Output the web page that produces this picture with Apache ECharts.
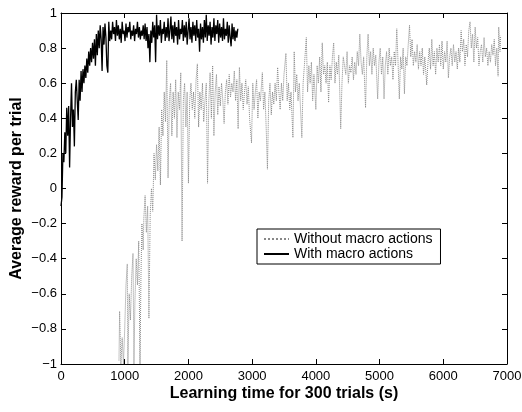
<!DOCTYPE html>
<html>
<head>
<meta charset="utf-8">
<script src="https://cdn.jsdelivr.net/npm/echarts@6/dist/echarts.min.js"></script>
<style>
html, body { margin: 0; padding: 0; background: #fff; }
#chart { width: 522px; height: 412px; }
</style>
</head>
<body>
<div id="chart"></div>
<script>
// axis ticks
var xTicks = [0, 1000, 2000, 3000, 4000, 5000, 6000, 7000];
var yTicks = [-1, -0.8, -0.6, -0.4, -0.2, 0, 0.2, 0.4, 0.6, 0.8, 1];
var seriesNames = ['Without macro actions', 'With macro actions'];

// [learning time (s), average reward per trial]
var withMacro = [
  [0,-0.1],[15,-0.05],[30,0.2],[45,0.15],[60,0.32],[75,0.2],[90,0.46],[105,0.3],[120,0.47],[135,0.12],
  [150,0.4],[165,0.6],[180,0.35],[195,0.45],[210,0.24],[225,0.55],[240,0.62],[255,0.5],[270,0.39],[285,0.62],
  [300,0.5],[315,0.67],[330,0.55],[345,0.68],[360,0.6],[375,0.7],[390,0.63],[405,0.74],[420,0.66],[435,0.78],
  [450,0.7],[465,0.8],[480,0.72],[495,0.83],[510,0.74],[525,0.85],[540,0.7],[555,0.88],[570,0.76],[585,0.9],
  [600,0.8],[615,0.93],[630,0.85],[645,0.67],[660,0.92],[675,0.82],[690,0.94],[705,0.86],[720,0.7],[735,0.66],
  [750,0.95],[765,0.84],[780,0.9],[795,0.85],[810,0.95],[825,0.88],[840,0.92],[855,0.84],[870,0.96],[885,0.87],
  [900,0.93],[915,0.85],[930,0.91],[945,0.83],[960,0.95],[975,0.88],[990,0.9],[1005,0.84],[1020,0.94],[1035,0.86],
  [1050,0.92],[1065,0.89],[1080,0.95],[1095,0.85],[1110,0.9],[1125,0.87],[1140,0.93],[1155,0.84],[1170,0.91],[1185,0.88],
  [1200,0.95],[1215,0.86],[1230,0.92],[1245,0.85],[1260,0.9],[1275,0.87],[1290,0.93],[1305,0.85],[1320,0.94],[1335,0.84],
  [1350,0.92],[1365,0.8],[1380,0.88],[1395,0.72],[1410,0.9],[1425,0.83],[1440,0.95],[1455,0.86],[1470,0.93],[1485,0.72],
  [1500,0.99],[1515,0.85],[1530,0.93],[1545,0.87],[1560,0.96],[1575,0.83],[1590,0.91],[1605,0.88],[1620,0.95],[1635,0.84],
  [1650,0.92],[1665,0.86],[1680,0.97],[1695,0.84],[1710,0.9],[1725,0.98],[1740,0.85],[1755,0.93],[1770,0.83],[1785,0.95],
  [1800,0.87],[1815,0.92],[1830,0.82],[1845,0.96],[1860,0.85],[1875,0.91],[1890,0.88],[1905,0.96],[1920,0.84],[1935,0.93],
  [1950,0.86],[1965,0.95],[1980,0.82],[1995,0.9],[2010,0.97],[2025,0.85],[2040,0.92],[2055,0.83],[2070,0.95],[2085,0.87],
  [2100,0.93],[2115,0.84],[2130,0.96],[2145,0.86],[2160,0.91],[2175,0.78],[2190,0.94],[2205,0.85],[2220,0.92],[2235,0.83],
  [2250,0.96],[2265,0.86],[2280,0.99],[2295,0.84],[2310,0.93],[2325,0.87],[2340,0.95],[2355,0.82],[2370,0.92],[2385,0.86],
  [2400,0.97],[2415,0.84],[2430,0.93],[2445,0.88],[2460,0.96],[2475,0.83],[2490,0.94],[2505,0.86],[2520,0.92],[2535,0.84],
  [2550,0.97],[2565,0.85],[2580,0.91],[2595,0.87],[2610,0.95],[2625,0.83],[2640,0.93],[2655,0.86],[2670,0.81],[2685,0.94],
  [2700,0.85],[2715,0.92],[2730,0.84],[2745,0.9],[2760,0.86],[2775,0.91]
];

var withoutMacro = [
  [910,-0.98],[920,-0.7],[940,-1.0],[960,-0.85],[980,-1.0],[1000,-0.8],[1020,-0.55],[1040,-0.43],[1050,-1.0],[1070,-0.6],
  [1090,-0.75],[1110,-0.5],[1130,-0.37],[1145,-1.0],[1160,-0.65],[1180,-0.4],[1200,-0.55],[1220,-0.3],[1240,-1.0],[1255,-0.5],
  [1270,-0.2],[1290,-0.35],[1300,-0.17],[1320,-0.04],[1340,-0.25],[1360,-0.1],[1380,-0.74],[1400,-0.15],[1420,0.0],[1440,-0.13],
  [1460,0.2],[1480,0.05],[1500,0.25],[1520,0.1],[1540,0.35],[1560,0.02],[1580,0.45],[1600,0.3],[1620,0.55],[1640,0.38],
  [1660,0.73],[1680,0.06],[1700,0.5],[1720,0.6],[1740,0.3],[1760,0.55],[1780,0.4],[1800,0.62],[1820,0.29],[1840,0.55],
  [1860,0.45],[1880,0.66],[1900,-0.3],[1920,0.5],[1940,0.6],[1960,0.35],[1980,0.55],[2000,0.03],[2020,0.5],[2040,0.6],
  [2060,0.45],[2080,0.55],[2100,0.4],[2120,0.62],[2140,0.71],[2160,0.35],[2180,0.55],[2200,0.45],[2220,0.6],[2240,0.38],
  [2260,0.5],[2280,0.6],[2300,0.03],[2320,0.5],[2340,0.66],[2360,0.4],[2380,0.7],[2400,0.3],[2420,0.55],[2440,0.65],
  [2460,0.42],[2480,0.58],[2500,0.47],[2520,0.6],[2540,0.5],[2560,0.37],[2580,0.55],[2600,0.62],[2620,0.48],[2640,0.65],
  [2660,0.52],[2680,0.6],[2700,0.55],[2720,0.67],[2740,0.5],[2760,0.62],[2780,0.34],[2800,0.69],[2820,0.5],[2840,0.6],
  [2860,0.45],[2880,0.55],[2900,0.62],[2920,0.48],[2940,0.58],[2960,0.4],[2990,0.26],[3010,0.6],[3030,0.45],[3050,0.55],
  [3070,0.62],[3090,0.4],[3110,0.55],[3130,0.5],[3160,0.66],[3180,0.45],[3200,0.55],[3220,0.35],[3240,0.11],[3260,0.5],
  [3280,0.6],[3300,0.42],[3320,0.55],[3340,0.48],[3360,0.6],[3380,0.5],[3400,0.69],[3420,0.55],[3440,0.45],[3460,0.6],
  [3480,0.5],[3500,0.65],[3530,0.77],[3550,0.5],[3570,0.6],[3590,0.45],[3610,0.55],[3640,0.29],[3660,0.78],[3680,0.55],
  [3700,0.65],[3720,0.5],[3740,0.6],[3760,0.45],[3780,0.29],[3800,0.6],[3820,0.7],[3850,0.86],[3870,0.55],[3890,0.7],
  [3910,0.6],[3930,0.72],[3950,0.5],[3970,0.65],[4000,0.45],[4020,0.7],[4040,0.6],[4060,0.75],[4080,0.55],[4100,0.83],
  [4120,0.65],[4140,0.7],[4160,0.6],[4180,0.72],[4200,0.49],[4220,0.7],[4240,0.62],[4260,0.75],[4280,0.83],[4300,0.6],
  [4320,0.72],[4340,0.65],[4360,0.76],[4390,0.34],[4410,0.6],[4430,0.75],[4450,0.7],[4470,0.65],[4490,0.78],[4510,0.6],
  [4530,0.7],[4550,0.66],[4570,0.75],[4590,0.62],[4610,0.72],[4630,0.65],[4650,0.78],[4670,0.7],[4690,0.88],[4710,0.72],
  [4730,0.65],[4750,0.75],[4780,0.46],[4800,0.75],[4820,0.88],[4840,0.7],[4860,0.78],[4880,0.65],[4900,0.8],[4920,0.7],
  [4940,0.76],[4970,0.51],[4990,0.72],[5010,0.8],[5030,0.65],[5050,0.75],[5070,0.51],[5090,0.7],[5110,0.78],[5130,0.65],
  [5150,0.8],[5170,0.7],[5190,0.75],[5210,0.62],[5230,0.78],[5250,0.7],[5270,0.91],[5290,0.72],[5310,0.51],[5330,0.75],
  [5350,0.68],[5370,0.8],[5390,0.54],[5410,0.75],[5430,0.7],[5450,0.82],[5470,0.93],[5490,0.75],[5510,0.85],[5530,0.7],
  [5550,0.78],[5570,0.72],[5590,0.82],[5610,0.68],[5630,0.78],[5650,0.7],[5670,0.8],[5690,0.65],[5710,0.75],[5740,0.59],
  [5760,0.72],[5780,0.8],[5800,0.68],[5820,0.85],[5840,0.7],[5860,0.78],[5880,0.65],[5900,0.8],[5920,0.72],[5940,0.82],
  [5960,0.7],[5980,0.84],[6000,0.68],[6020,0.78],[6040,0.72],[6060,0.84],[6080,0.63],[6100,0.75],[6120,0.8],[6140,0.7],
  [6160,0.82],[6180,0.72],[6200,0.78],[6220,0.68],[6240,0.8],[6260,0.72],[6280,0.9],[6300,0.78],[6320,0.85],[6340,0.7],
  [6360,0.82],[6380,0.75],[6400,0.9],[6420,0.95],[6440,0.8],[6460,0.88],[6480,0.72],[6500,0.92],[6520,0.8],[6540,0.86],
  [6560,0.7],[6580,0.78],[6600,0.82],[6620,0.72],[6640,0.86],[6660,0.75],[6680,0.8],[6700,0.7],[6720,0.78],[6740,0.72],
  [6760,0.82],[6780,0.76],[6800,0.85],[6820,0.7],[6840,0.8],[6860,0.64],[6870,0.92],[6890,0.78],[6900,0.87]
];

var font = 'Liberation Sans, Arial, Helvetica, sans-serif';
var chart = echarts.init(document.getElementById('chart'));

function minusSign(v) {
    return String(v).replace('-', '\u2212');
}

var option = {
    animation: false,
    grid: { left: 61, right: 15, top: 13, bottom: 48, containLabel: false, outerBoundsMode: 'none' },
    legend: {
        orient: 'vertical',
        left: 257,
        top: 229,
        data: seriesNames,
        backgroundColor: '#fff',
        borderColor: '#000',
        borderWidth: 1,
        padding: [3, 8, 3, 6],
        itemWidth: 25,
        itemHeight: 10,
        itemGap: 1,
        itemStyle: { opacity: 0 },
        textStyle: { fontFamily: font, fontSize: 14, color: '#000' }
    },
    xAxis: [{
        type: 'value',
        min: xTicks[0],
        max: xTicks[xTicks.length - 1],
        interval: 1000,
        name: 'Learning time for 300 trials (s)',
        nameLocation: 'middle',
        nameGap: 22,
        nameMoveOverlap: false,
        nameTextStyle: { fontFamily: font, fontSize: 16, fontWeight: 'bold', color: '#000' },
        axisLine: { show: true, onZero: false, lineStyle: { color: '#000', width: 1 } },
        axisTick: { show: true, inside: true, length: 5, lineStyle: { color: '#000' } },
        axisLabel: { fontFamily: font, fontSize: 13, color: '#000', margin: 6, formatter: function (v) { return String(v); } },
        splitLine: { show: false }
    }, {
        type: 'value',
        position: 'top',
        min: xTicks[0],
        max: xTicks[xTicks.length - 1],
        interval: 1000,
        axisLine: { show: true, onZero: false, lineStyle: { color: '#000', width: 1 } },
        axisTick: { show: true, inside: true, length: 5, lineStyle: { color: '#000' } },
        axisLabel: { show: false },
        splitLine: { show: false }
    }],
    yAxis: [{
        type: 'value',
        min: yTicks[0],
        max: yTicks[yTicks.length - 1],
        interval: 0.2,
        name: 'Average reward per trial',
        nameLocation: 'middle',
        nameGap: 36,
        nameMoveOverlap: false,
        nameTextStyle: { fontFamily: font, fontSize: 16, fontWeight: 'bold', color: '#000' },
        axisLine: { show: true, onZero: false, lineStyle: { color: '#000', width: 1 } },
        axisTick: { show: true, inside: true, length: 5, lineStyle: { color: '#000' } },
        axisLabel: { fontFamily: font, fontSize: 13, color: '#000', margin: 4, formatter: minusSign },
        splitLine: { show: false }
    }, {
        type: 'value',
        position: 'right',
        min: yTicks[0],
        max: yTicks[yTicks.length - 1],
        interval: 0.2,
        axisLine: { show: true, onZero: false, lineStyle: { color: '#000', width: 1 } },
        axisTick: { show: true, inside: true, length: 5, lineStyle: { color: '#000' } },
        axisLabel: { show: false },
        splitLine: { show: false }
    }],
    series: [{
        name: seriesNames[0],
        type: 'line',
        data: withoutMacro,
        symbol: 'none',
        lineStyle: { color: '#888', width: 1, type: 'dotted' },
        itemStyle: { color: '#888' }
    }, {
        name: seriesNames[1],
        type: 'line',
        data: withMacro,
        symbol: 'none',
        lineStyle: { color: '#000', width: 1.3 },
        itemStyle: { color: '#000' }
    }]
};
chart.setOption(option);
</script>
</body>
</html>
